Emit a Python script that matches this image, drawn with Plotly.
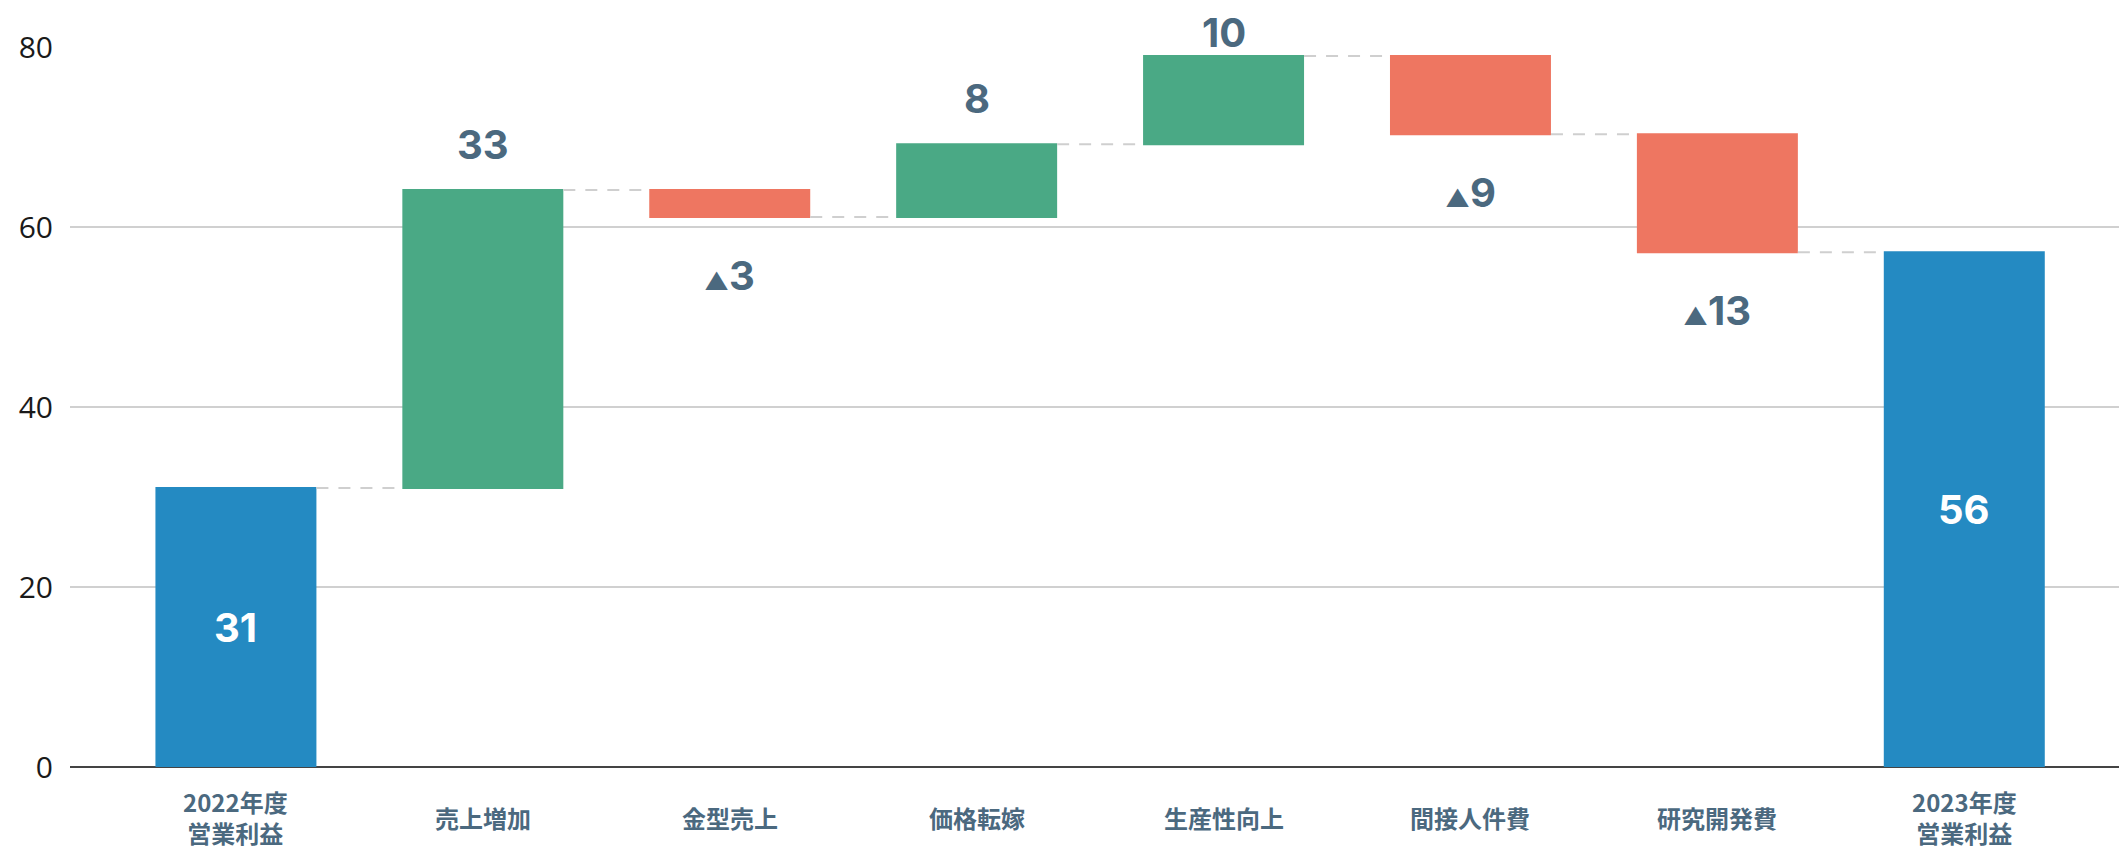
import plotly.graph_objects as go

# ---- data ----
categories = ["2022年度営業利益", "売上増加", "金型売上", "価格転嫁", "生産性向上", "間接人件費", "研究開発費", "2023年度営業利益"]
tick_labels = ["2022年度<br>営業利益", "売上増加", "金型売上", "価格転嫁", "生産性向上", "間接人件費", "研究開発費", "2023年度<br>営業利益"]
measures = ["absolute", "relative", "relative", "relative", "relative", "relative", "relative", "total"]
values = [31, 33.1, -3.0, 8.1, 9.8, -8.7, -13.1, 0]
value_labels = ["31", "33", "▲3", "8", "10", "▲9", "▲13", "56"]
y_ticks = [0, 20, 40, 60, 80]

BLUE = "#248AC2"
GREEN = "#4AA985"
RED = "#EE7661"
LABEL = "#4B697F"

Y_MAX = 80
MARGIN_T = 39
MARGIN_B = 82
FIG_H = 841
PLOT_H = FIG_H - MARGIN_T - MARGIN_B

fig = go.Figure()
fig.add_trace(go.Waterfall(
    x=categories,
    y=values,
    measure=measures,
    increasing=dict(marker=dict(color=GREEN)),
    decreasing=dict(marker=dict(color=RED)),
    totals=dict(marker=dict(color=BLUE)),
    connector=dict(mode="between", line=dict(color="#CFCFCF", width=2, dash="12px,10px")),
    hoverinfo="skip",
    showlegend=False,
))

annotations = []
running = 0.0
for i, (cat, m, v, lab) in enumerate(zip(categories, measures, values, value_labels)):
    if m == "absolute":
        running = v
        top = v
    elif m == "total":
        top = running
    else:
        running += v
    if m in ("absolute", "total"):
        annotations.append(dict(
            x=cat, y=top / 2, xref="x", yref="y", text=lab, showarrow=False,
            yanchor="middle", font=dict(family="Inter", size=40, color="white", weight=700)))
    else:
        txt = lab
        if lab.startswith("▲"):
            txt = '<span style="font-size:24px">▲</span>' + lab[1:]
        if v >= 0:
            # keep the label inside the figure when the bar reaches near the top
            bar_top_px = MARGIN_T + (Y_MAX - running) / Y_MAX * PLOT_H
            shift = min(46, bar_top_px - 25)
            annotations.append(dict(
                x=cat, y=running, xref="x", yref="y", text=txt, showarrow=False,
                yanchor="middle", yshift=shift, font=dict(family="Inter", size=40, color=LABEL, weight=700)))
        else:
            annotations.append(dict(
                x=cat, y=running, xref="x", yref="y", text=txt, showarrow=False,
                yanchor="middle", yshift=-58, font=dict(family="Inter", size=40, color=LABEL, weight=700)))

for cat, tl in zip(categories, tick_labels):
    annotations.append(dict(
        x=cat, y=0, xref="x", yref="paper", text=tl, showarrow=False,
        yanchor="middle", yshift=-50,
        font=dict(family="Noto Sans CJK JP", size=24, color=LABEL, weight=700)))

# the page body has an 8px default margin; the figure is sized to end at the window edges
fig.update_layout(
    width=2119, height=FIG_H,
    margin=dict(l=62, r=0, t=MARGIN_T, b=MARGIN_B),
    paper_bgcolor="white", plot_bgcolor="white",
    waterfallgap=0.348,
    annotations=annotations,
    xaxis=dict(
        type="category", range=[-0.672, 7.659], showticklabels=False,
        showgrid=False, zeroline=False, showline=False, fixedrange=True,
    ),
    yaxis=dict(
        range=[0, Y_MAX], tickvals=y_ticks, showgrid=True, gridcolor="#D0D0D0", gridwidth=2,
        zeroline=True, zerolinecolor="#444444", zerolinewidth=2,
        showline=False, ticks="", ticklabelstandoff=16,
        tickfont=dict(family="Open Sans", size=30, color="#1a1a1a"),
    ),
)

fig.write_html("out.html")
